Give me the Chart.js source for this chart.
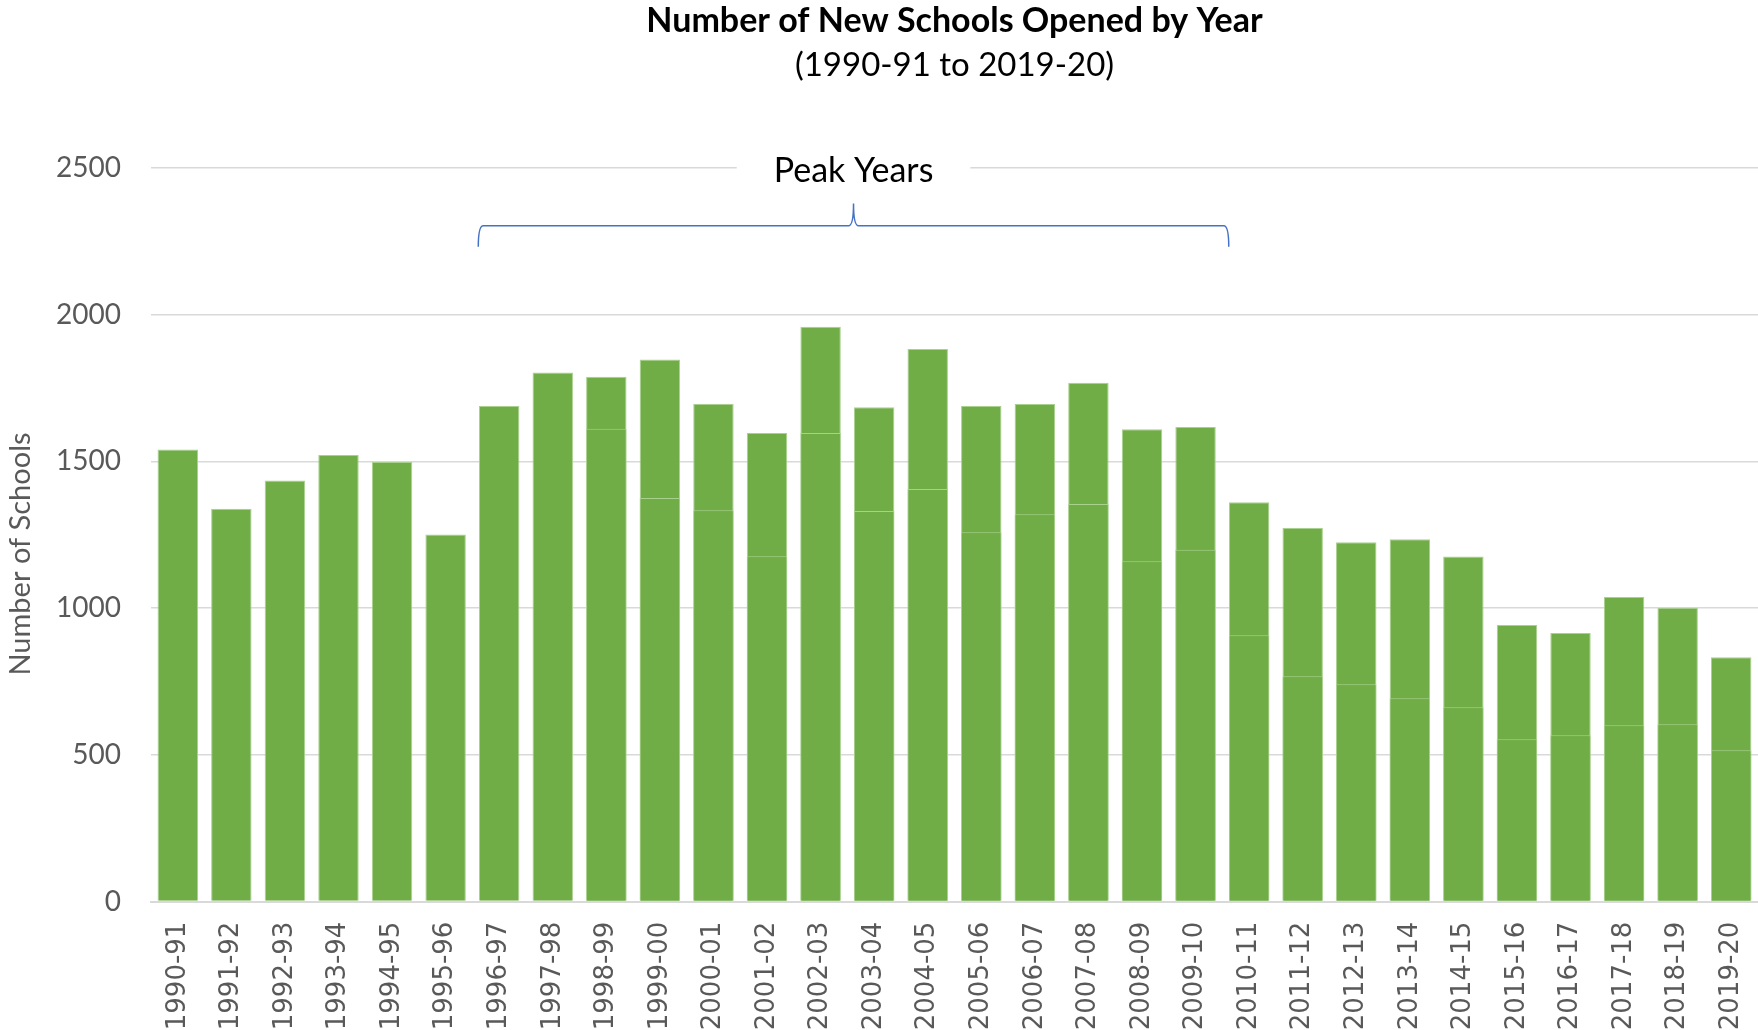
<!DOCTYPE html>
<html>
<head>
<meta charset="utf-8">
<title>Number of New Schools Opened by Year</title>
<script src="https://cdn.jsdelivr.net/npm/chart.js@4.4.1/dist/chart.umd.min.js"></script>
<style>
  html, body { margin: 0; padding: 0; background: #ffffff; }
  #wrap { width: 1758px; height: 1030px; position: relative; }
</style>
</head>
<body>
<div id="wrap"><canvas id="chart" width="1758" height="1030"></canvas></div>
<script>
// School years shown on the category axis
const schoolYears = [
  '1990-91', '1991-92', '1992-93', '1993-94', '1994-95', '1995-96',
  '1996-97', '1997-98', '1998-99', '1999-00', '2000-01', '2001-02',
  '2002-03', '2003-04', '2004-05', '2005-06', '2006-07', '2007-08',
  '2008-09', '2009-10', '2010-11', '2011-12', '2012-13', '2013-14',
  '2014-15', '2015-16', '2016-17', '2017-18', '2018-19', '2019-20'
];

// Total new schools opened each year (full bar height)
const totalSchools = [
  1541, 1339, 1435, 1522, 1498, 1251,
  1689, 1803, 1789, 1847, 1697, 1597,
  1959, 1685, 1883, 1689, 1696, 1768,
  1610, 1617, 1361, 1273, 1225, 1235,
  1176, 943, 915, 1038, 1001, 833
];

// Lower segment of each bar (no split recorded for the early years)
const lowerSegment = [
  null, null, null, null, null, null,
  null, null, 1611, 1375, 1334, 1177,
  1597, 1331, 1406, 1259, 1320, 1355,
  1160, 1199, 908, 768, 741, 693,
  662, 553, 567, 601, 604, 516
];

// Y axis tick values
const yTicks = [0, 500, 1000, 1500, 2000, 2500];

// Text
const chartTitle = 'Number of New Schools Opened by Year';
const chartSubtitle = '(1990-91 to 2019-20)';
const yAxisTitle = 'Number of Schools';

// Bracket over the peak period
const peakLabel = 'Peak Years';
const peakFirst = '1996-97';
const peakLast = '2009-10';

const GREEN = '#70AD47';
const EDGE = '#a9d18e';
const GREY_TEXT = '#595959';
const GRID = '#d9d9d9';
const BRACKET = '#4472C4';
const SANS = 'Lato, "Open Sans", sans-serif';

// Titles are centred over the plot area, and the y title sits a little below centre
const headings = {
  id: 'headings',
  afterDraw(chart) {
    const { ctx, chartArea } = chart;
    const cx = (chartArea.left + chartArea.right) / 2;
    ctx.save();
    ctx.textAlign = 'center';
    ctx.textBaseline = 'middle';
    ctx.fillStyle = '#000000';
    ctx.font = 'bold 34px ' + SANS;
    ctx.fillText(chartTitle, cx, 21);
    ctx.font = '33px ' + SANS;
    ctx.fillText(chartSubtitle, cx, 65);

    ctx.fillStyle = GREY_TEXT;
    ctx.font = '29px ' + SANS;
    ctx.translate(21, 554);
    ctx.rotate(-Math.PI / 2);
    ctx.fillText(yAxisTitle, 0, 0);
    ctx.restore();
  }
};

const peakBracket = {
  id: 'peakBracket',
  afterDraw(chart) {
    const { ctx, scales: { x, y } } = chart;
    const i0 = schoolYears.indexOf(peakFirst);
    const i1 = schoolYears.indexOf(peakLast);
    const left = x.getPixelForValue(i0 - 0.39);
    const right = x.getPixelForValue(i1 + 0.62);
    const mid = (left + right) / 2;
    const yLine = y.getPixelForValue(2303);
    const yTip = y.getPixelForValue(2232);
    const yPeak = y.getPixelForValue(2379);
    const r = 5;

    ctx.save();
    ctx.strokeStyle = BRACKET;
    ctx.lineWidth = 1.5;
    ctx.beginPath();
    ctx.moveTo(left, yTip);
    ctx.quadraticCurveTo(left, yLine, left + r, yLine);
    ctx.lineTo(mid - r, yLine);
    ctx.quadraticCurveTo(mid, yLine, mid, yPeak);
    ctx.quadraticCurveTo(mid, yLine, mid + r, yLine);
    ctx.lineTo(right - r, yLine);
    ctx.quadraticCurveTo(right, yLine, right, yTip);
    ctx.stroke();

    // label sitting on the top gridline, with a white band behind it
    const yText = y.getPixelForValue(2500);
    ctx.font = '34px ' + SANS;
    const w = ctx.measureText(peakLabel).width;
    ctx.fillStyle = '#ffffff';
    ctx.fillRect(mid - w / 2 - 37, yText - 6, w + 74, 12);
    ctx.fillStyle = '#000000';
    ctx.textAlign = 'center';
    ctx.textBaseline = 'middle';
    ctx.fillText(peakLabel, mid, yText + 3);
    ctx.restore();
  }
};

new Chart(document.getElementById('chart'), {
  type: 'bar',
  data: {
    labels: schoolYears,
    datasets: [
      {
        label: 'Lower segment',
        data: lowerSegment,
        backgroundColor: GREEN,
        borderColor: EDGE,
        borderWidth: 1,
        grouped: false,
        barPercentage: 0.755,
        categoryPercentage: 1.0
      },
      {
        label: 'New schools',
        data: totalSchools,
        backgroundColor: GREEN,
        borderColor: EDGE,
        borderWidth: 1,
        grouped: false,
        barPercentage: 0.755,
        categoryPercentage: 1.0
      }
    ]
  },
  options: {
    responsive: false,
    animation: false,
    layout: { padding: { left: 0, right: 0, top: 168, bottom: 0 } },
    plugins: {
      legend: { display: false },
      tooltip: { enabled: false },
      title: { display: false },
      subtitle: { display: false }
    },
    scales: {
      x: {
        afterFit(scale) {
          scale.height = 128.4;
          scale.paddingLeft = 0;
          scale.paddingRight = 0;
        },
        grid: { display: false, drawTicks: false },
        border: { display: true, color: GRID, width: 2 },
        ticks: {
          autoSkip: false,
          minRotation: 90,
          maxRotation: 90,
          padding: 20,
          color: GREY_TEXT,
          font: { family: '"DejaVu Sans", Verdana, sans-serif', size: 26 }
        }
      },
      y: {
        min: 0,
        max: 2500,
        afterFit(scale) {
          scale.width = 151;
          scale.paddingTop = 0;
          scale.paddingBottom = 0;
        },
        afterBuildTicks(scale) {
          scale.ticks = yTicks.map(v => ({ value: v }));
        },
        grid: { color: GRID, lineWidth: 1.5, drawTicks: false },
        border: { display: false },
        ticks: {
          padding: 30,
          color: GREY_TEXT,
          font: { family: SANS, size: 28 },
          callback: v => String(v)
        }
      }
    }
  },
  plugins: [headings, peakBracket]
});
</script>
</body>
</html>
